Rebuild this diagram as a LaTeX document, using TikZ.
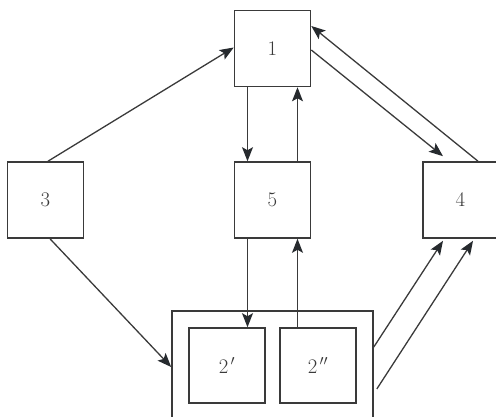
\documentclass[tikz,border=0pt]{standalone}
\usetikzlibrary{arrows.meta}
\definecolor{linec}{HTML}{3A3A3A}
\definecolor{tipc}{HTML}{262A2E}
\begin{document}
\begin{tikzpicture}[x=1pt,y=-1pt,
  box/.style={draw=linec,line width=1.6pt,inner sep=0pt,minimum width=76pt,minimum height=76pt,
    font=\fontsize{20}{24}\selectfont,text=linec},
  conn/.style={draw=linec,line width=1.3pt,-{Stealth[length=14pt,width=11pt,inset=3pt,color=tipc]}}]
\useasboundingbox (0,0) rectangle (496,417);
\node[box] (n1) at (272.5,48.5) {$1$};
\node[box] (n3) at (45.5,200) {$3$};
\node[box] (n5) at (272.5,200) {$5$};
\node[box,minimum width=75pt] (n4) at (460.5,200) {$4$};
\node[draw=linec,line width=1.6pt,inner sep=0pt,minimum width=201pt,minimum height=120pt] (n2) at (272.5,371) {};
\node[box,minimum height=75pt] (n2p) at (227,365.5) {$2^{\,\prime}$};
\node[box,minimum height=75pt] (n2pp) at (318,365.5) {$2^{\,\prime\prime}$};
\coordinate (a1) at ([xshift=-25pt]n1.south);
\coordinate (b1) at ([xshift=25pt]n1.south);
\coordinate (a5) at ([xshift=-25pt]n5.south);
\coordinate (b5) at ([xshift=25pt]n5.south);
\draw[conn] ([xshift=2.5pt]n3.north) -- ([yshift=1pt]n1.west);
\draw[conn] (a1) -- (a1 |- n5.north);
\draw[conn] (b1 |- n5.north) -- (b1);
\draw[conn] ([yshift=-1.5pt]n1.east) -- ([xshift=-17.5pt,yshift=5pt]n4.north);
\draw[conn] ([xshift=17.5pt]n4.north) -- ([yshift=22.5pt]n1.east);
\draw[conn] ([xshift=4.5pt]n3.south) -- ([yshift=4pt]n2.west);
\draw[conn] (a5) -- (a5 |- n2p.north);
\draw[conn] (b5 |- n2pp.north) -- (b5);
\draw[conn] ([yshift=24pt]n2.east) -- ([xshift=-17.5pt,yshift=-2pt]n4.south);
\draw[conn] ([xshift=3pt,yshift=-18pt]n2.east) -- ([xshift=12.5pt,yshift=-2pt]n4.south);
\end{tikzpicture}
\end{document}
